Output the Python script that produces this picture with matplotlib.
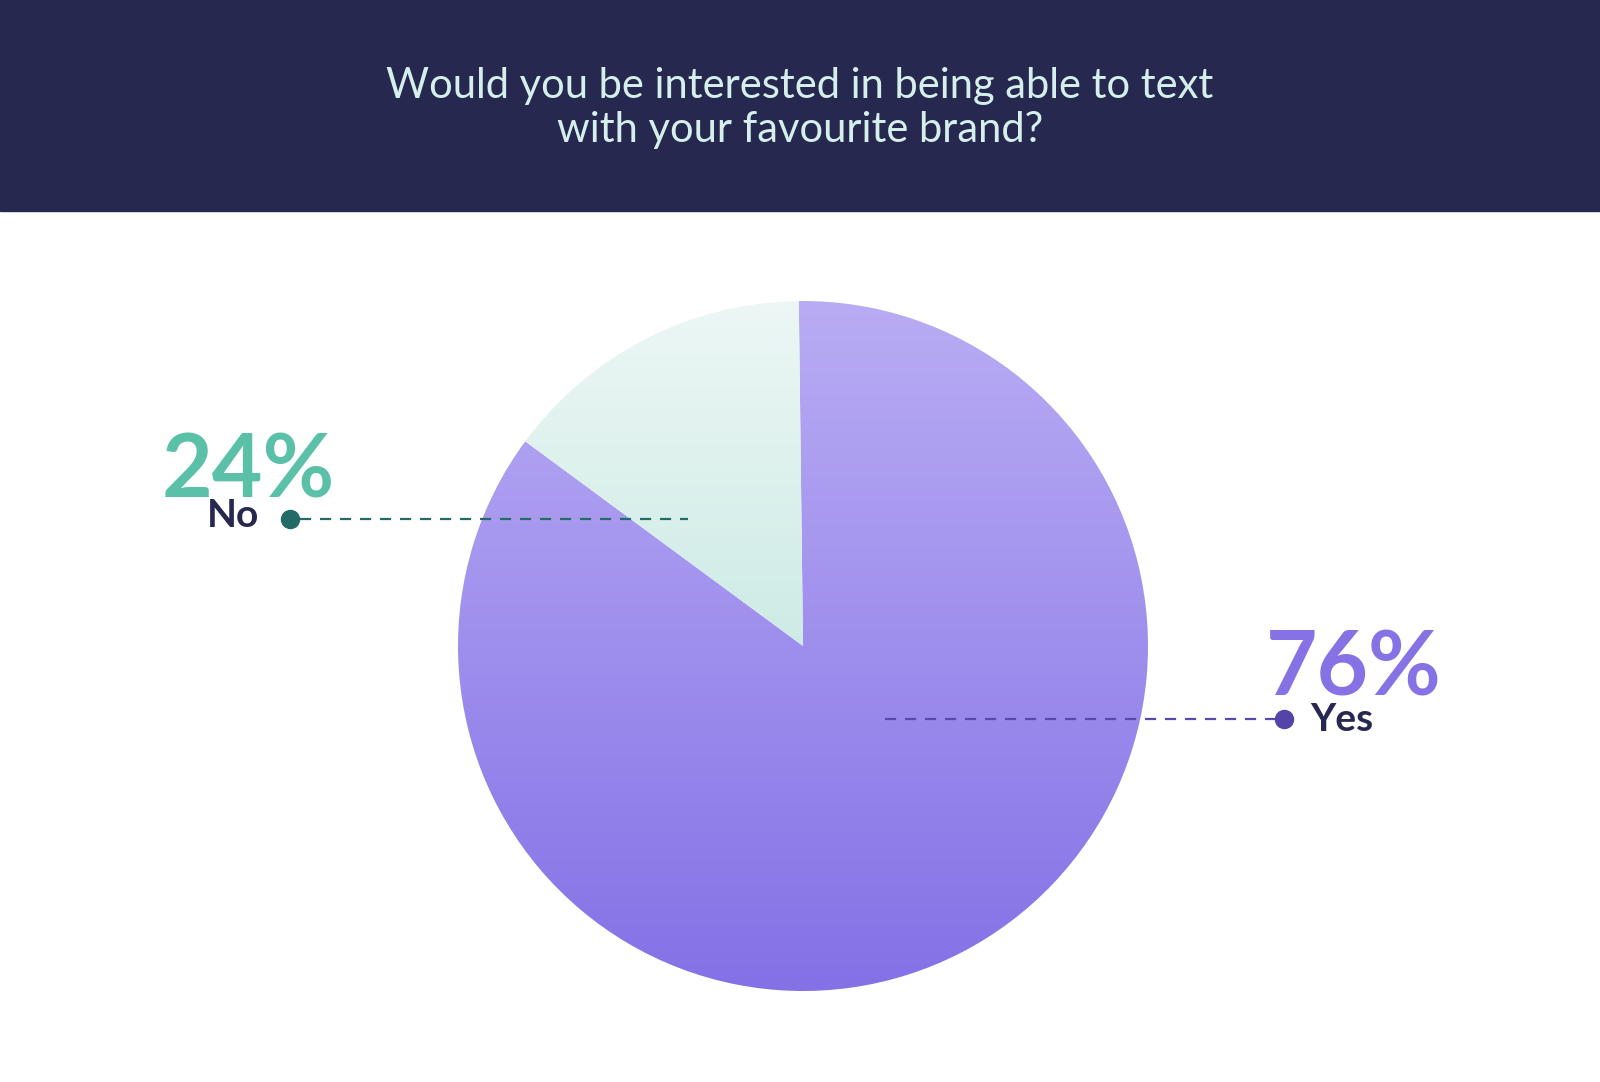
"""Pie chart: interest in texting with a favourite brand."""

import numpy as np
import matplotlib
matplotlib.use("Agg")
import matplotlib.pyplot as plt
from matplotlib.colors import LinearSegmentedColormap

W, H = 1600, 1082

TITLE = "Would you be interested in being able to text\nwith your favourite brand?"
answers = ["No", "Yes"]
percent_labels = ["24%", "76%"]
# wedge shares as drawn in the source graphic (the No slice is drawn narrower than 24%)
wedge_shares = [14.7, 85.3]

NAVY = "#262850"
TEAL = "#5bc0a8"
PURPLE = "#8672e5"
FONT = "Lato"


def py(y):
    """Convert a top-down pixel row into data y."""
    return H - y


fig = plt.figure(figsize=(W / 100, H / 100), dpi=100)
ax = fig.add_axes([0, 0, 1, 1])
ax.set_xlim(0, W)
ax.set_ylim(0, H)
ax.axis("off")

# header band
ax.add_patch(plt.Rectangle((0, py(211)), W, 211, color=NAVY, zorder=0))
ax.text(800, py(108), TITLE, ha="center", va="center", color="#d5efea",
        fontsize=30, family=FONT, linespacing=1.17, zorder=5)

cx, cy, r = 803, py(646), 345
wedges, _ = ax.pie(wedge_shares, center=(cx, cy), radius=r, startangle=90.7,
                   counterclock=True, frame=True,
                   wedgeprops=dict(facecolor="none", edgecolor="none"))

# gradient fills clipped to each wedge
yes_cmap = LinearSegmentedColormap.from_list("yes", ["#8471e6", "#b9acf4"])
no_cmap = LinearSegmentedColormap.from_list("no", ["#cdebe5", "#edf7f5"])
grad = np.linspace(0, 1, 256).reshape(-1, 1)

img = ax.imshow(grad, cmap=yes_cmap, origin="lower", aspect="auto",
                extent=(cx - r, cx + r, cy - r, cy + r), zorder=1)
img.set_clip_path(wedges[1])
img = ax.imshow(grad, cmap=no_cmap, origin="lower", aspect="auto",
                extent=(cx - r, cx + r, cy, cy + r), zorder=1)
img.set_clip_path(wedges[0])
ax.set_xlim(0, W)
ax.set_ylim(0, H)

# No annotation
ax.plot([300, 688], [py(519), py(519)], color="#226b67", lw=1.6,
        dashes=(5, 4), zorder=3)
ax.plot(290, py(519), "o", ms=13, color="#226b67", zorder=4)
ax.text(162, py(497), percent_labels[0], color=TEAL, fontsize=63,
        fontweight="bold", family=FONT, ha="left", va="baseline", zorder=5)
ax.text(259, py(527), answers[0], color=NAVY, fontsize=28,
        fontweight="bold", family=FONT, ha="right", va="baseline", zorder=5)

# Yes annotation
ax.plot([885, 1284], [py(719), py(719)], color="#5a48b0", lw=1.6,
        dashes=(5, 4), zorder=3)
ax.plot(1284, py(719), "o", ms=13, color="#5544a8", zorder=4)
ax.text(1266, py(696), percent_labels[1], color=PURPLE, fontsize=64,
        fontweight="bold", family=FONT, ha="left", va="baseline", zorder=5)
ax.text(1310, py(731), answers[1], color=NAVY, fontsize=28,
        fontweight="bold", family=FONT, ha="left", va="baseline", zorder=5)

fig.savefig("out.png", dpi=100, facecolor="white")
